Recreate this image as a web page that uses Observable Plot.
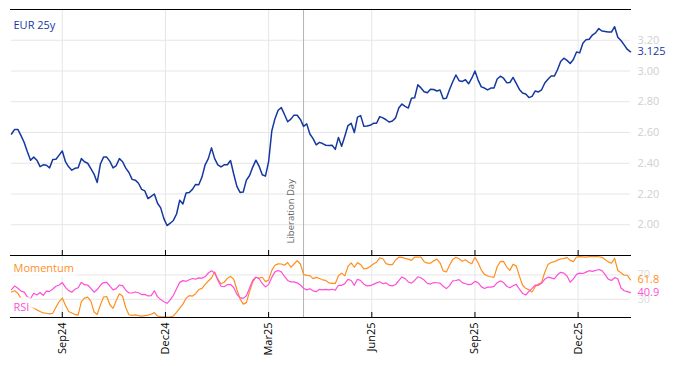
<!DOCTYPE html>
<html><head><meta charset="utf-8">
<script src="https://cdn.jsdelivr.net/npm/d3@7"></script>
<script src="https://cdn.jsdelivr.net/npm/@observablehq/plot@0.6"></script>
<style>
body{margin:0;background:#fff;}
#chart{position:relative;width:674px;height:366px;}
#chart svg{position:absolute;left:0;}
</style></head><body><div id="chart"></div>
<script>
// EUR 25y swap rate, every 2nd business day from 2024-07-18
const eur25y = [
2.59,2.62,2.62,2.58,2.535,2.475,2.42,2.44,2.42,2.378,
2.39,2.387,2.37,2.425,2.426,2.453,2.48,2.41,2.377,2.355,
2.367,2.37,2.43,2.41,2.40,2.365,2.33,2.275,2.395,2.44,
2.44,2.412,2.37,2.385,2.43,2.41,2.368,2.34,2.295,2.29,
2.27,2.23,2.22,2.17,2.185,2.20,2.14,2.11,2.04,1.995,
2.01,2.028,2.07,2.16,2.135,2.207,2.21,2.23,2.262,2.26,
2.31,2.39,2.43,2.50,2.43,2.39,2.376,2.39,2.39,2.418,
2.33,2.25,2.21,2.213,2.29,2.32,2.375,2.42,2.38,2.325,
2.316,2.41,2.61,2.69,2.745,2.762,2.717,2.67,2.687,2.713,
2.712,2.685,2.64,2.656,2.59,2.56,2.52,2.536,2.528,2.517,
2.515,2.517,2.49,2.568,2.51,2.576,2.645,2.66,2.60,2.70,
2.71,2.64,2.643,2.647,2.66,2.66,2.703,2.695,2.683,2.668,
2.675,2.695,2.76,2.785,2.77,2.759,2.823,2.826,2.91,2.89,
2.865,2.858,2.882,2.88,2.87,2.876,2.82,2.822,2.88,2.93,
2.974,2.937,2.932,2.943,2.917,2.953,3.0,2.941,2.897,2.889,
2.877,2.889,2.89,2.948,2.966,2.953,2.924,2.925,2.958,2.92,
2.88,2.857,2.85,2.827,2.835,2.87,2.864,2.878,2.922,2.946,
2.967,2.967,3.008,3.062,3.083,3.069,3.049,3.075,3.124,3.118,
3.18,3.204,3.207,3.234,3.248,3.276,3.26,3.257,3.254,3.253,
3.288,3.22,3.198,3.17,3.14,3.125];
const momentum = [
42,44,40,31,22,17,17,15.5,12.5,10,
7.5,7,6,7,17,26,32,20,10,7.5,
5,4,26,32,33.4,27,9,5,20.5,33.5,
34.5,21,15,28,39,35,16,4.5,3.5,4.4,
3,2.4,3.2,3.8,5.3,8,2.5,1,1,0.5,
1,2.5,8.5,15.5,22,31.8,36,35.3,39.2,46,
48,54.5,60,65,75,63,55.5,58,64.3,67.7,
63,46,30.7,22,24.5,43,58.6,66.3,64.7,66.2,
59,61.5,77.6,86,88.3,88,86,90.5,82.7,88,
93.3,88,71,69.3,69,64,66.1,64.2,62,61,
57,56,56,68.8,73,68.5,84,90,82.7,90.2,
87,80.1,80.8,84,88,91,98,96.7,88.7,87,
87,94.6,99.2,98.8,97.3,96.1,94,99.2,99.2,99.2,
91.8,89.5,89.4,93.2,96,90,76.5,75,86,95.6,
99.2,96.6,92.4,95,91,88.5,99,90,78,71,
68.3,67,66,83.5,92,92.3,83,77.5,87.4,85,
68,53,48,45.5,42,51,55,57.7,74.5,87,
90.5,91.8,94.4,96.3,96.8,99,94,92,99.5,100,
99.6,99.3,100,100,100,100,99,95.5,91.5,89.2,
97.3,77.3,73.5,69.5,69.5,61.8];
const rsi = [
46,52,48,43.5,41.8,34,31,40,37,41,
36.5,43.5,43,47,51.5,53.4,57.5,49.5,44.2,41.6,
46.6,49,57.7,54,53.4,48,41.6,46,53,57.5,
57.8,51.8,45.5,47.5,53.5,52.5,45,40.3,40.3,42,
40.7,37.7,38.1,35.5,36,44,34.4,29.5,25.9,23.3,
29,36.5,47.4,57.8,60.7,59.5,62,64.1,63,65.2,
64.7,67,73.2,76.8,73.3,61.5,51.4,50.6,54,54.2,
49.4,38.3,32.7,31.4,35.8,48.6,61.3,66.2,63.8,56,
50.3,54.5,66,75,77.3,75,67.5,61,58.6,58.6,
57,53.4,48,45.4,47.4,43.9,42.5,46.3,45.5,46.3,
45.4,46.5,45,53,53,55.7,62.7,60.8,52.9,62.8,
60.8,54.8,52,52.3,54.5,57,58.8,55.5,57,53,
52.1,54.3,60.5,66.7,64,58.5,56.6,61,67,65,
61.5,56,55,57.6,57.2,56.5,51.5,47.5,52.5,60.4,
60.9,62.4,57.4,55.6,54,55,59.5,57.2,50.8,47.6,
50,50,51.3,57.3,60.2,57.5,51.4,48.8,52.2,54.6,
46.5,39.6,37,42.9,48,53.5,53,56.3,63,66.3,
65.3,63.5,70.2,74.3,73,68.3,58,63.5,71,73,
72.4,74.7,77,76,77.4,79,77.2,70.4,63,61,
65.5,63.7,48.5,44,42.6,40.9];
const tickDates = ["2024-09-01","2024-12-01","2025-03-01","2025-06-01","2025-09-01","2025-12-01"];
const tickLabels = ["Sep24","Dec24","Mar25","Jun25","Sep25","Dec25"];
const yTicks = [2.0,2.2,2.4,2.6,2.8,3.0,3.2];
const oscTicks = [30,70];
const seriesName = "EUR 25y";
const eventDate = "2025-04-02";
const eventLabel = "Liberation Day";

const blue = "#1538a0", orange = "#ff8f1f", pink = "#ff4fd8";
const font = "'Open Sans', sans-serif";

const start = new Date(Date.UTC(2024, 6, 18));
const end = new Date(Date.UTC(2026, 0, 17));
const bdays = d3.utcDays(start, end).filter(d => d.getUTCDay() !== 0 && d.getUTCDay() !== 6);
const step = 2;
const idxOf = s => bdays.findIndex(b => b >= new Date(s));
const tickIdx = tickDates.map(idxOf);
const eventIdx = idxOf(eventDate);
const main = eur25y.map((v, i) => ({i: i * step, date: bdays[i * step], v}));
const osc = momentum.map((m, i) => ({i: i * step, date: bdays[i * step], m, r: rsi[i]}));
const xDomain = [0, (eur25y.length - 1) * step];

const topPlot = Plot.plot({
  width: 674, height: 256,
  marginTop: 9, marginRight: 44, marginBottom: 1, marginLeft: 11,
  style: {fontFamily: font, fontSize: "11px", background: "transparent", overflow: "visible"},
  x: {domain: xDomain, label: null, axis: null},
  y: {domain: [1.8, 3.4], label: null},
  marks: [
    Plot.ruleY(yTicks, {stroke: "#e6e6e6"}),
    Plot.ruleX(tickIdx, {stroke: "#e6e6e6"}),
    Plot.ruleX([eventIdx], {stroke: "#b4b4b4"}),
    Plot.text([{i: eventIdx, t: eventLabel}], {x: "i", text: "t", frameAnchor: "bottom", rotate: -90,
      textAnchor: "start", lineAnchor: "middle", dx: -13, dy: -12, fill: "#666", fontSize: 9.5}),
    Plot.axisY(yTicks, {anchor: "right", tickSize: 0, tickPadding: 7, tickFormat: d3.format(".2f"),
      fill: "#cfcfcf", label: null}),
    Plot.lineY(main, {x: "i", y: "v", stroke: blue, strokeWidth: 1.5}),
    Plot.ruleY([3.4], {stroke: "black", insetLeft: -1, insetRight: -1}),
    Plot.ruleY([1.8], {stroke: "black", insetLeft: -1, insetRight: -1}),
    Plot.ruleX(tickIdx, {stroke: "black", insetTop: 241}),
    Plot.text([seriesName], {text: d => d, frameAnchor: "top-left", dx: 2, dy: 16,
      textAnchor: "start", lineAnchor: "middle", fill: blue}),
    Plot.text([eur25y[eur25y.length - 1]], {y: d => d, text: d => d.toFixed(3), frameAnchor: "right",
      dx: 7, textAnchor: "start", fill: blue})
  ]
});

const bottomPlot = Plot.plot({
  width: 674, height: 116,
  marginTop: 5, marginRight: 44, marginBottom: 49, marginLeft: 11,
  style: {fontFamily: font, fontSize: "11px", background: "transparent", overflow: "visible"},
  x: {domain: xDomain, label: null},
  y: {domain: [0, 102], label: null},
  marks: [
    Plot.ruleY(oscTicks, {stroke: "#e6e6e6"}),
    Plot.ruleX(tickIdx, {stroke: "#e6e6e6"}),
    Plot.ruleX([eventIdx], {stroke: "#b4b4b4"}),
    Plot.axisY(oscTicks, {anchor: "right", tickSize: 0, tickPadding: 7, fill: "#dcdcdc", label: null}),
    Plot.lineY(osc, {x: "i", y: "m", stroke: orange, strokeWidth: 1.2}),
    Plot.lineY(osc, {x: "i", y: "r", stroke: pink, strokeWidth: 1.2}),
    Plot.ruleY([102], {stroke: "black", insetLeft: -1, insetRight: -1}),
    Plot.ruleY([0], {stroke: "black", insetLeft: -1, insetRight: -1}),
    Plot.ruleX(tickIdx, {stroke: "black", insetTop: 57}),
    Plot.axisX(tickIdx, {anchor: "bottom", tickSize: 0, tickPadding: 5, tickRotate: -90,
      tickFormat: d => tickLabels[tickIdx.indexOf(d)], fill: "black", label: null}),
    Plot.text(["Momentum"], {text: d => d, frameAnchor: "top-left", dx: 2, dy: 13, textAnchor: "start",
      lineAnchor: "middle", fill: orange, stroke: "white", strokeOpacity: 0.7, strokeWidth: 10, paintOrder: "stroke"}),
    Plot.text(["RSI"], {text: d => d, frameAnchor: "bottom-left", dx: 2, dy: -10.5, textAnchor: "start",
      lineAnchor: "middle", fill: pink, stroke: "white", strokeOpacity: 0.7, strokeWidth: 12, paintOrder: "stroke"}),
    Plot.text([momentum[momentum.length - 1]], {y: d => d, text: d => d.toFixed(1), frameAnchor: "right",
      dx: 7, textAnchor: "start", fill: orange}),
    Plot.text([rsi[rsi.length - 1]], {y: d => d, text: d => d.toFixed(1), frameAnchor: "right",
      dx: 7, textAnchor: "start", fill: pink})
  ]
});

const chart = document.getElementById("chart");
topPlot.style.top = "0px";
bottomPlot.style.top = "250px";
chart.appendChild(topPlot);
chart.appendChild(bottomPlot);
</script>
</body></html>
